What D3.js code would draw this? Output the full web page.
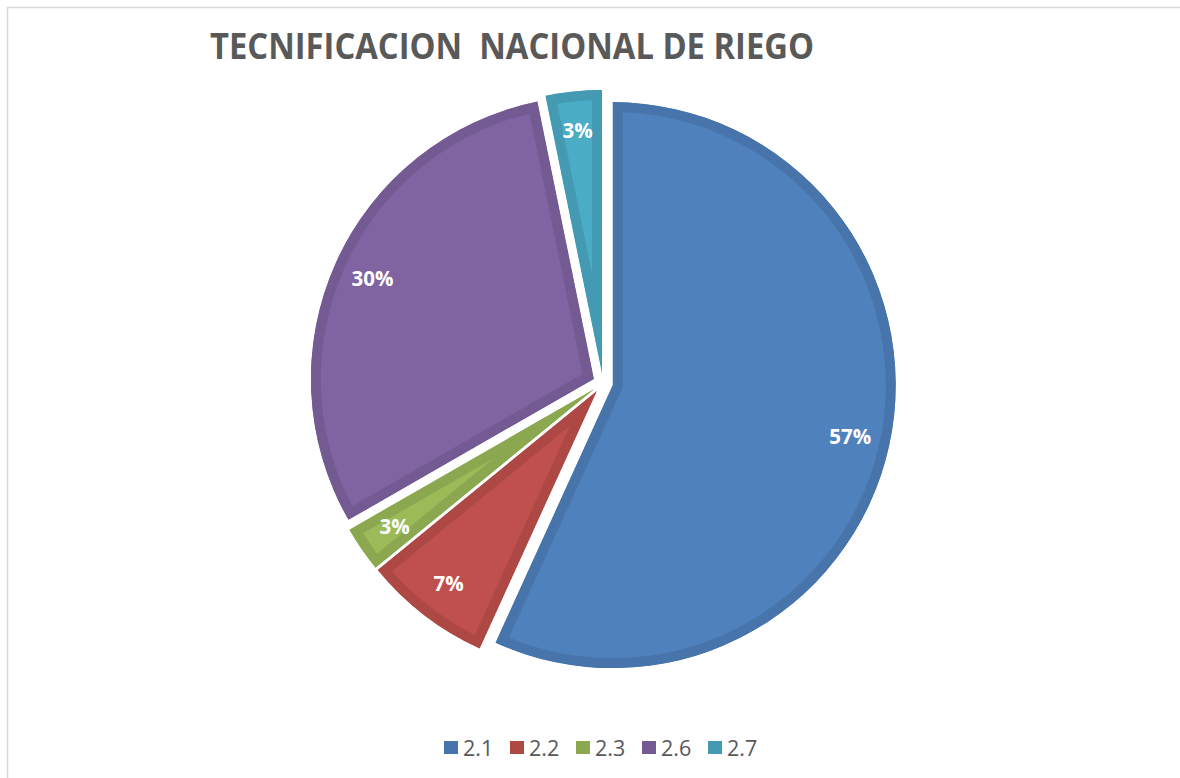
<!DOCTYPE html>
<html><head><meta charset="utf-8">
<script src="https://cdn.jsdelivr.net/npm/d3@7/dist/d3.min.js"></script>
<style>body{margin:0;background:#fff}svg{display:block}</style>
</head><body>
<svg id="c" width="1180" height="778"></svg>
<script>
const categories = ["2.1", "2.2", "2.3", "2.6", "2.7"];
const values = [56.8, 7.3, 2.6, 30.1, 3.2];
const fills = ["#4F81BD", "#C0504D", "#9BBB59", "#8064A2", "#4BACC6"];
const borders = ["#4774AA", "#AD4845", "#8BA850", "#735A92", "#439AB2"];
const title = "TECNIFICACION  NACIONAL DE RIEGO";

const svg = d3.select("#c");
svg.append("path").attr("d","M7.5,778 L7.5,7.5 L1180,7.5").attr("fill","none").attr("stroke","#d9d9d9").attr("stroke-width",1.5);

svg.append("text").attr("x",512).attr("y",59).attr("text-anchor","middle")
  .attr("font-family","'Open Sans', sans-serif").attr("font-weight",700).attr("font-size",35)
  .attr("fill","#595959").attr("textLength",604).attr("lengthAdjust","spacingAndGlyphs")
  .style("white-space","pre").text(title);

const cx = 603, cy = 383, R = 283, explode = 10;
const total = d3.sum(values);
const pie = d3.pie().sort(null).value(d => d.v);
const arcs = pie(categories.map((c,i)=>({c, v: values[i], i})));
const arc = d3.arc().innerRadius(0).outerRadius(R);
const labelArc = d3.arc().innerRadius(243).outerRadius(243);
const defs = svg.append("defs");
const g = svg.append("g").attr("transform",`translate(${cx},${cy})`);

arcs.forEach((a, i) => {
  const mid = (a.startAngle + a.endAngle)/2;
  const ox = Math.sin(mid)*explode, oy = -Math.cos(mid)*explode;
  const sg = g.append("g").attr("transform",`translate(${ox},${oy})`);
  defs.append("clipPath").attr("id","cp"+i).append("path").attr("d", arc(a));
  sg.append("path").attr("d", arc(a)).attr("fill", fills[i])
    .attr("stroke", borders[i]).attr("stroke-width", 20).attr("stroke-linejoin","miter")
    .attr("clip-path", `url(#cp${i})`);
  const [lx, ly] = labelArc.centroid(a);
  sg.append("text").attr("x", lx).attr("y", ly).attr("dy","0.35em").attr("text-anchor","middle")
    .attr("font-family","'Open Sans', sans-serif").attr("font-weight",700).attr("font-size",20.5)
    .attr("fill","#fff").text(d3.format(".0%")(a.data.v/total));
});

const lx0 = 444, step = 66;
const leg = svg.append("g");
categories.forEach((c,i)=>{
  const x = lx0 + i*step;
  leg.append("rect").attr("x",x).attr("y",741).attr("width",14).attr("height",13).attr("fill",borders[i]);
  leg.append("text").attr("x",x+19).attr("y",748).attr("dy","0.36em")
    .attr("font-family","'Open Sans', sans-serif").attr("font-size",21.5).attr("fill","#595959").text(c);
});
</script>
</body></html>
